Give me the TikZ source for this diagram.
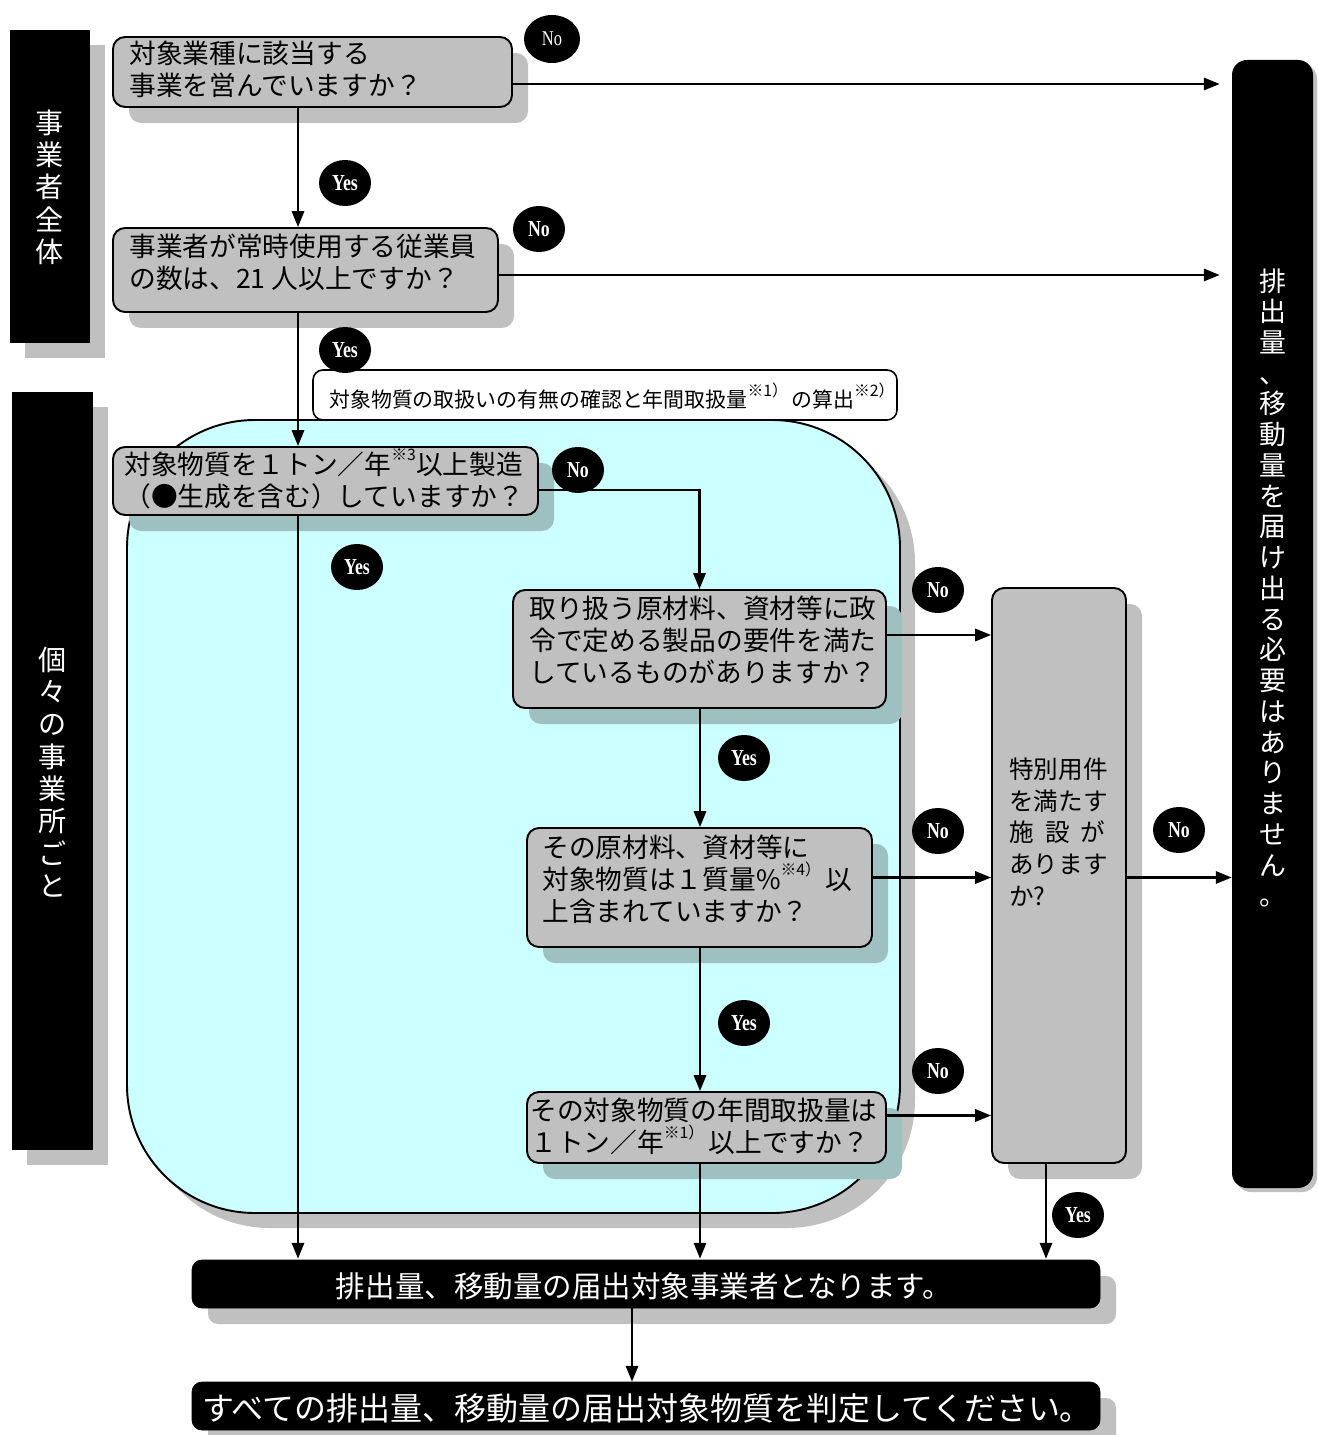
\documentclass[tikz,border=0pt]{standalone}
\usepackage{fontspec}
\setmainfont{Noto Sans CJK JP}
\newfontfamily\ynfont{Liberation Serif}
\usetikzlibrary{arrows.meta,shapes.geometric,shadows,calc}
\newlength\px \setlength\px{0.02cm}
\definecolor{boxgray}{RGB}{192,192,192}
\definecolor{shgray}{RGB}{192,192,192}
\definecolor{cyanbg}{RGB}{204,255,255}
\definecolor{cyansh}{RGB}{158,192,192}
\newcommand{\mysup}[1]{\raisebox{0.5em}{\fontsize{9pt}{9pt}\selectfont #1}}
\newcommand{\ynlab}[1]{\scalebox{0.78}[1]{#1}}
\begin{document}
\begin{tikzpicture}[x=0.02cm,y=-0.02cm,
 qboxbase/.style={draw, line width=1.1pt, fill=boxgray, rounded corners=12\px, inner sep=0pt},
 qbox/.style={qboxbase, drop shadow={shadow xshift=16\px, shadow yshift=-16\px, fill=shgray, opacity=1}},
 qboxc/.style={qboxbase, drop shadow={shadow xshift=16\px, shadow yshift=-16\px, fill=cyansh, opacity=1}},
 qtext/.style={anchor=west, align=left, inner sep=0pt, font=\fontsize{15.2pt}{18.1pt}\selectfont},
 bar/.style={fill=black, inner sep=0pt, drop shadow={shadow xshift=15\px, shadow yshift=-15\px, fill=shgray, opacity=1}},
 vtext/.style={text=white, align=center, inner sep=0pt},
 finalbox/.style={fill=black, draw=black, rounded corners=10\px, inner sep=0pt, drop shadow={shadow xshift=16\px, shadow yshift=-16\px, fill=shgray, opacity=1}},
 yn/.style={ellipse, fill=black, text=white, minimum width=52\px, minimum height=46\px, inner sep=0pt, font=\ynfont\bfseries\fontsize{13pt}{14pt}\selectfont},
 arr/.style={line width=1.2pt, -{Triangle[length=9pt,width=7pt]}},
]
\useasboundingbox (0,0) rectangle (1317,1435);

% side bars
\node[bar, minimum width=80\px, minimum height=313\px] (lbar1) at (50,186.5) {};
\node[vtext, font=\fontsize{16pt}{18.4pt}\selectfont] (lbar1t) at (50,187) {事\\業\\者\\全\\体};
\node[bar, minimum width=81\px, minimum height=758\px] (lbar2) at (52.5,771) {};
\node[vtext, font=\fontsize{16pt}{18.4pt}\selectfont] (lbar2t) at (52.5,772) {個\\々\\の\\事\\業\\所\\ご\\と};
\node[fill=black, rounded corners=15\px, inner sep=0pt, minimum width=81\px, minimum height=1128\px,
      drop shadow={shadow xshift=4\px, shadow yshift=-4\px, fill=shgray, opacity=1}] (rbar) at (1272.5,624) {};
\node[vtext, font=\fontsize{15.3pt}{17.5pt}\selectfont] (rbart) at (1272.5,588)
  {排\\出\\量\\、\\移\\動\\量\\を\\届\\け\\出\\る\\必\\要\\は\\あ\\り\\ま\\せ\\ん\\。};

% cyan region
\node[draw, line width=1.1pt, fill=cyanbg, rounded corners=128\px, inner sep=0pt,
      minimum width=773\px, minimum height=793\px,
      drop shadow={shadow xshift=15\px, shadow yshift=-15\px, fill=shgray, opacity=1}] (region) at (513.5,816.5) {};

% note box
\node[draw, line width=0.9pt, fill=white, rounded corners=10\px, inner sep=0pt,
      minimum width=584\px, minimum height=50\px] (note) at (605,395) {};
\node[anchor=west, inner sep=0pt, font=\fontsize{11.9pt}{14pt}\selectfont] (notet) at (329,396)
  {対象物質の取扱いの有無の確認と年間取扱量\mysup{※1）}\,の算出\mysup{※2）}};

% question boxes
\node[qbox, minimum width=399\px, minimum height=70\px] (b1) at (312.5,72) {};
\node[qtext] (b1t) at (129,69) {対象業種に該当する\\事業を営んでいますか？};
\node[qbox, minimum width=385\px, minimum height=84\px] (b2) at (305.5,270) {};
\node[qtext] (b2t) at (129,262) {事業者が常時使用する従業員\\の数は、21 人以上ですか？};
\node[qboxc, minimum width=425\px, minimum height=68\px] (b3) at (325.5,481) {};
\node[qtext] (b3t) at (124,479) {対象物質を１トン／年\mysup{※3}以上製造\\（●生成を含む）していますか？};
\node[qboxc, minimum width=373\px, minimum height=118\px] (b4) at (699.5,649) {};
\node[qtext] (b4t) at (529,640) {取り扱う原材料、資材等に政\\令で定める製品の要件を満た\\しているものがありますか？};
\node[qboxc, minimum width=345\px, minimum height=119\px] (b5) at (699.5,887.5) {};
\node[qtext] (b5t) at (542,879) {その原材料、資材等に\\対象物質は１質量\%\mysup{※4）}\,以\\上含まれていますか？};
\node[qboxc, minimum width=359\px, minimum height=71\px] (b6) at (706.5,1127.5) {};
\node[qtext] (b6t) at (530,1126) {その対象物質の年間取扱量は\\１トン／年\mysup{※1）}\,以上ですか？};
\node[qbox, minimum width=134\px, minimum height=575\px] (tall) at (1059,875.5) {};
\node[qtext, font=\fontsize{14pt}{18.1pt}\selectfont] (tallt) at (1009,832)
  {特別用件\\を満たす\\施\hspace{0.45em}設\hspace{0.45em}が\\あります\\か?};

% final boxes
\node[finalbox, minimum width=908\px, minimum height=48\px] (f1) at (646,1284) {};
\node[text=white, inner sep=0pt, font=\fontsize{16.8pt}{18pt}\selectfont] (f1t) at (644,1286) {排出量、移動量の届出対象事業者となります。};
\node[finalbox, minimum width=908\px, minimum height=48\px] (f2) at (646,1406) {};
\node[text=white, inner sep=0pt, font=\fontsize{18.2pt}{19pt}\selectfont] (f2t) at (647,1408) {すべての排出量、移動量の届出対象物質を判定してください。};

% helper coordinates
\coordinate (spine) at (298,0);
\coordinate (vline) at (700,0);
\coordinate (tline) at (1046,0);
\coordinate (fline) at (632,0);
\coordinate (a1) at ([yshift=-12\px]b1.east);
\coordinate (a2) at ([yshift=-5\px]b2.east);
\coordinate (a3) at ([yshift=-9\px]b3.east);
\coordinate (a4) at ([yshift=14\px]b4.east);
\coordinate (a5) at ([yshift=10\px]b5.east);
\coordinate (a6) at ([yshift=12\px]b6.east);
\coordinate (a7) at (tall.east |- a5);

% connectors
\draw[arr, shorten >=12\px] (a1) -- (a1 -| rbar.west);
\draw[arr, shorten >=12\px] (a2) -- (a2 -| rbar.west);
\draw[arr] (b1.south -| spine) -- (b2.north -| spine);
\draw[arr] (b2.south -| spine) -- (b3.north -| spine);
\draw[arr, shorten >=1\px] (b3.south -| spine) -- (f1.north -| spine);
\draw[arr] (a3) -| (b4.north);
\draw[arr] (a4) -- (a4 -| tall.west);
\draw[arr] (b4.south -| vline) -- (b5.north -| vline);
\draw[arr] (a5) -- (a5 -| tall.west);
\draw[arr] (b5.south -| vline) -- (b6.north -| vline);
\draw[arr] (a6) -- (a6 -| tall.west);
\draw[arr, shorten >=1\px] (b6.south -| vline) -- (f1.north -| vline);
\draw[arr] (a7) -- (a7 -| rbar.west);
\draw[arr, shorten >=1\px] (tall.south -| tline) -- (f1.north -| tline);
\draw[arr] (f1.south -| fline) -- (f2.north -| fline);

% yes / no labels
\node[yn, minimum width=56\px, minimum height=48\px, font=\ynfont\fontsize{12pt}{13pt}\selectfont] (n1) at (552,39) {\ynlab{No}};
\node[yn] (y1) at (345,183) {\ynlab{Yes}};
\node[yn] (n2) at (539,229) {\ynlab{No}};
\node[yn] (y2) at (345,350) {\ynlab{Yes}};
\node[yn] (n3) at (578,470) {\ynlab{No}};
\node[yn] (y3) at (357,567) {\ynlab{Yes}};
\node[yn] (n4) at (938,590) {\ynlab{No}};
\node[yn] (y4) at (744,758) {\ynlab{Yes}};
\node[yn] (n5) at (938,831) {\ynlab{No}};
\node[yn] (y5) at (744,1023) {\ynlab{Yes}};
\node[yn] (n6) at (938,1071) {\ynlab{No}};
\node[yn] (n7) at (1179,830) {\ynlab{No}};
\node[yn] (y7) at (1078,1215) {\ynlab{Yes}};
\end{tikzpicture}
\end{document}
